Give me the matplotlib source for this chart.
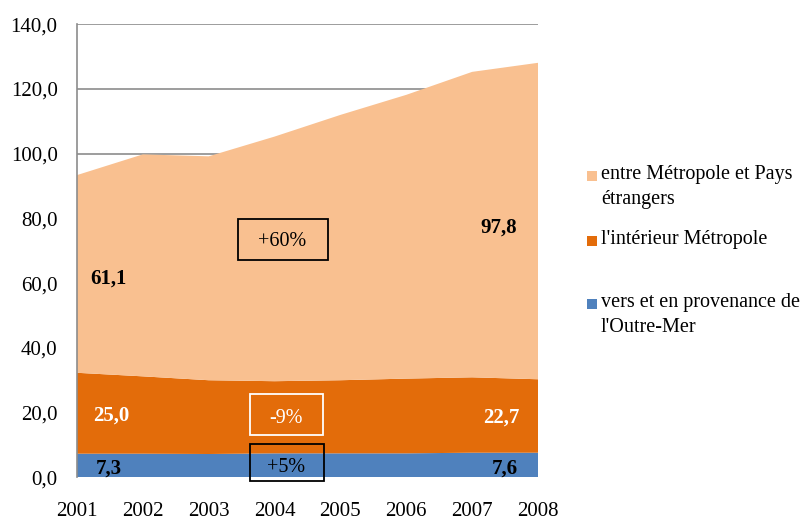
import matplotlib
matplotlib.use("Agg")
import matplotlib.pyplot as plt
from matplotlib.patches import Rectangle
import numpy as np

plt.rcParams['font.family'] = ['Liberation Serif', 'DejaVu Serif']

years = [2001, 2002, 2003, 2004, 2005, 2006, 2007, 2008]
outre_mer = [7.3, 7.3, 7.2, 7.4, 7.4, 7.4, 7.6, 7.6]
interieur = [25.0, 23.9, 22.8, 22.3, 22.6, 23.1, 23.3, 22.7]
etrangers = [61.1, 68.6, 69.2, 75.6, 82.0, 87.7, 94.4, 97.8]

labels = ["vers et en provenance de\nl'Outre-Mer",
          "l'intérieur Métropole",
          "entre Métropole et Pays\nétrangers"]
colors = ["#4F81BD", "#E36C0A", "#F9C090"]

yticks = [0, 20, 40, 60, 80, 100, 120, 140]

fig = plt.figure(figsize=(8.05, 5.22), dpi=100)
ax = fig.add_axes([77/805, 1-477.3/522, (538-77)/805, (477.3-24.3)/522])

ax.stackplot(years, outre_mer, interieur, etrangers, colors=colors, linewidth=0, zorder=2)

ax.set_xlim(years[0], years[-1])
ax.set_ylim(0, 140)
ax.set_yticks(yticks)
ax.set_yticklabels([f"{v:.1f}".replace('.', ',') for v in yticks], fontsize=15)
ax.set_xticks(years)
ax.set_xticklabels([str(y) for y in years], fontsize=15)
ax.tick_params(axis='x', length=0, pad=18)
ax.tick_params(axis='y', length=0, pad=14)
ax.grid(axis='y', color='#8C8C8C', linewidth=1.2, zorder=1)
for s in ['top', 'right', 'bottom']:
    ax.spines[s].set_visible(False)
ax.spines['left'].set_color('#8C8C8C')
ax.spines['left'].set_linewidth(1.2)
ax.set_axisbelow(True)

def fmt(v):
    return f"{v:.1f}".replace('.', ',')

# value labels
fs = 15
ax.text(2001.48, 61.4, fmt(etrangers[0]),
        ha='center', va='center', fontsize=fs, fontweight='bold', color='black', zorder=5)
ax.text(2007.41, 77.1, fmt(etrangers[-1]),
        ha='center', va='center', fontsize=fs, fontweight='bold', color='black', zorder=5)
ax.text(2001.52, 19.0, fmt(interieur[0]),
        ha='center', va='center', fontsize=fs, fontweight='bold', color='white', zorder=5)
ax.text(2007.45, 18.4, fmt(interieur[-1]),
        ha='center', va='center', fontsize=fs, fontweight='bold', color='white', zorder=5)
ax.text(2001.49, 2.8, fmt(outre_mer[0]),
        ha='center', va='center', fontsize=fs, fontweight='bold', color='black', zorder=5)
ax.text(2007.5, 2.8, fmt(outre_mer[-1]),
        ha='center', va='center', fontsize=fs, fontweight='bold', color='black', zorder=5)

# change boxes
ax.add_patch(Rectangle((2003.44, 67.1), 1.37, 12.6, fill=False, edgecolor='black', lw=1.3, zorder=6, clip_on=False))
ax.text(2004.12, 72.8, "+60%", ha='center', va='center', fontsize=14.5, color='black', zorder=6)
ax.add_patch(Rectangle((2003.62, 13.0), 1.12, 12.8, fill=False, edgecolor='white', lw=1.3, zorder=6, clip_on=False))
ax.text(2004.18, 18.2, "-9%", ha='center', va='center', fontsize=14.5, color='white', zorder=6)
ax.add_patch(Rectangle((2003.62, -1.05), 1.13, 11.2, fill=False, edgecolor='black', lw=1.3, zorder=6, clip_on=False))
ax.text(2004.18, 2.9, "+5%", ha='center', va='center', fontsize=14.5, color='black', zorder=6)

# legend (manual)
leg_items = [(labels[2], colors[2], 176), (labels[1], colors[1], 241), (labels[0], colors[0], 304)]
for lab, col, yc in leg_items:
    fig.patches.append(Rectangle((587/805, 1-(yc+5)/522), 10/805, 10/522,
                                 transform=fig.transFigure, facecolor=col, edgecolor='none'))
    fig.text(601/805, 1-(yc-11)/522, lab, ha='left', va='top', fontsize=14.5,
             linespacing=1.4)

fig.savefig("out.png", dpi=100)
